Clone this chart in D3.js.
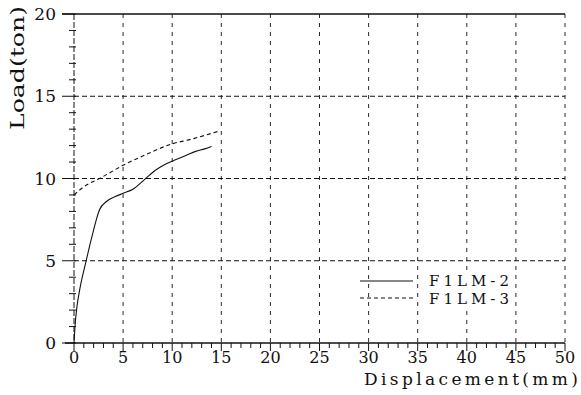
<!DOCTYPE html>
<html><head><meta charset="utf-8">
<script src="https://cdn.jsdelivr.net/npm/d3@7"></script>
<style>body{margin:0;background:#fff}svg{display:block}text{font-family:"DejaVu Serif",serif;fill:#111}</style>
</head><body>
<svg id="c" width="581" height="395"></svg>
<script>
const disp2 = [0, 0.1, 0.3, 0.6, 1.2, 1.8, 2.6, 3.3, 4.2, 5.0, 6.0, 7.2, 8.4, 9.4, 10.4, 11.4, 12.4, 13.3, 14.0];
const load2 = [0, 1.0, 2.2, 3.3, 4.9, 6.4, 8.1, 8.6, 8.9, 9.1, 9.35, 9.95, 10.55, 10.9, 11.15, 11.4, 11.65, 11.8, 11.95];
const disp3 = [0, 1.0, 2.6, 5.0, 7.5, 9.7, 12.0, 14.6];
const load3 = [9.0, 9.5, 10.0, 10.8, 11.5, 12.05, 12.4, 12.85];
const xTicks = [0, 5, 10, 15, 20, 25, 30, 35, 40, 45, 50];
const yTicks = [0, 5, 10, 15, 20];
const seriesNames = ["F1LM-2", "F1LM-3"];

const svg = d3.select("#c");
const x = d3.scaleLinear().domain([0, 50]).range([74, 565]);
const y = d3.scaleLinear().domain([0, 20]).range([343, 14]);
const ink = "#111";

// grid
const g = svg.append("g");
xTicks.filter(d => d > 0).forEach(d => {
  g.append("line").attr("x1", x(d)).attr("x2", x(d)).attr("y1", y(20)).attr("y2", y(0))
    .attr("stroke", ink).attr("stroke-width", 0.9).attr("stroke-dasharray", "4,5");
});
yTicks.filter(d => d > 0 && d < 20).forEach(d => {
  g.append("line").attr("x1", x(0)).attr("x2", x(50)).attr("y1", y(d)).attr("y2", y(d))
    .attr("stroke", ink).attr("stroke-width", 1).attr("stroke-dasharray", "5,3");
});
// top solid border
g.append("line").attr("x1", x(0) - 12).attr("x2", x(50)).attr("y1", y(20)).attr("y2", y(20))
  .attr("stroke", ink).attr("stroke-width", 1.5);
// y axis line (dash-dot look)
g.append("line").attr("x1", x(0)).attr("x2", x(0)).attr("y1", y(20)).attr("y2", y(0))
  .attr("stroke", ink).attr("stroke-width", 1).attr("stroke-dasharray", "6,2");
// x axis solid
g.append("line").attr("x1", x(0) - 9).attr("x2", x(50)).attr("y1", y(0)).attr("y2", y(0))
  .attr("stroke", ink).attr("stroke-width", 1.5);

// minor ticks
d3.range(0, 51, 1).forEach(d => {
  const major = d % 5 === 0;
  g.append("line").attr("x1", x(d)).attr("x2", x(d)).attr("y1", y(0)).attr("y2", y(0) + (major ? 8 : 5))
    .attr("stroke", ink).attr("stroke-width", 1);
});
d3.range(0, 21, 1).forEach(d => {
  const major = d % 5 === 0;
  g.append("line").attr("x1", x(0) - (major ? 12 : 5)).attr("x2", x(0) + 2).attr("y1", y(d)).attr("y2", y(d))
    .attr("stroke", ink).attr("stroke-width", 1);
});

// tick labels
g.selectAll(".xl").data(xTicks).enter().append("text")
  .attr("x", d => x(d)).attr("y", 363).attr("text-anchor", "middle").attr("font-size", 16).text(d => d);
g.selectAll(".yl").data(yTicks).enter().append("text")
  .attr("x", 56).attr("y", d => y(d) + 6).attr("text-anchor", "end").attr("font-size", 17).text(d => d);

// axis titles
svg.append("text").attr("transform", "translate(24,68) rotate(-90)").attr("text-anchor", "middle")
  .attr("font-size", 18).attr("textLength", 124).attr("lengthAdjust", "spacingAndGlyphs").text("Load(ton)");
svg.append("text").attr("x", 364).attr("y", 385).attr("font-size", 17)
  .attr("textLength", 214).attr("lengthAdjust", "spacing").text("Displacement(mm)");

// curves
const line = d3.line().x(d => x(d[0])).y(d => y(d[1])).curve(d3.curveMonotoneX);
svg.append("path").datum(disp2.map((d, i) => [d, load2[i]])).attr("d", line)
  .attr("fill", "none").attr("stroke", ink).attr("stroke-width", 1.1);
svg.append("path").datum(disp3.map((d, i) => [d, load3[i]])).attr("d", line)
  .attr("fill", "none").attr("stroke", ink).attr("stroke-width", 1.1).attr("stroke-dasharray", "4,3");

// legend
const lg = svg.append("g");
lg.append("rect").attr("x", 425).attr("y", 271).attr("width", 83).attr("height", 36).attr("fill", "#fff");
seriesNames.forEach((n, i) => {
  const yy = 281 + i * 17;
  lg.append("line").attr("x1", 360).attr("x2", 413).attr("y1", yy).attr("y2", yy)
    .attr("stroke", ink).attr("stroke-width", 1.1).attr("stroke-dasharray", i ? "4,3" : null);
  lg.append("text").attr("x", 429).attr("y", yy + 5 + i).attr("font-size", 15)
    .attr("textLength", 80).attr("lengthAdjust", "spacing").text(n);
});
</script>
</body></html>
